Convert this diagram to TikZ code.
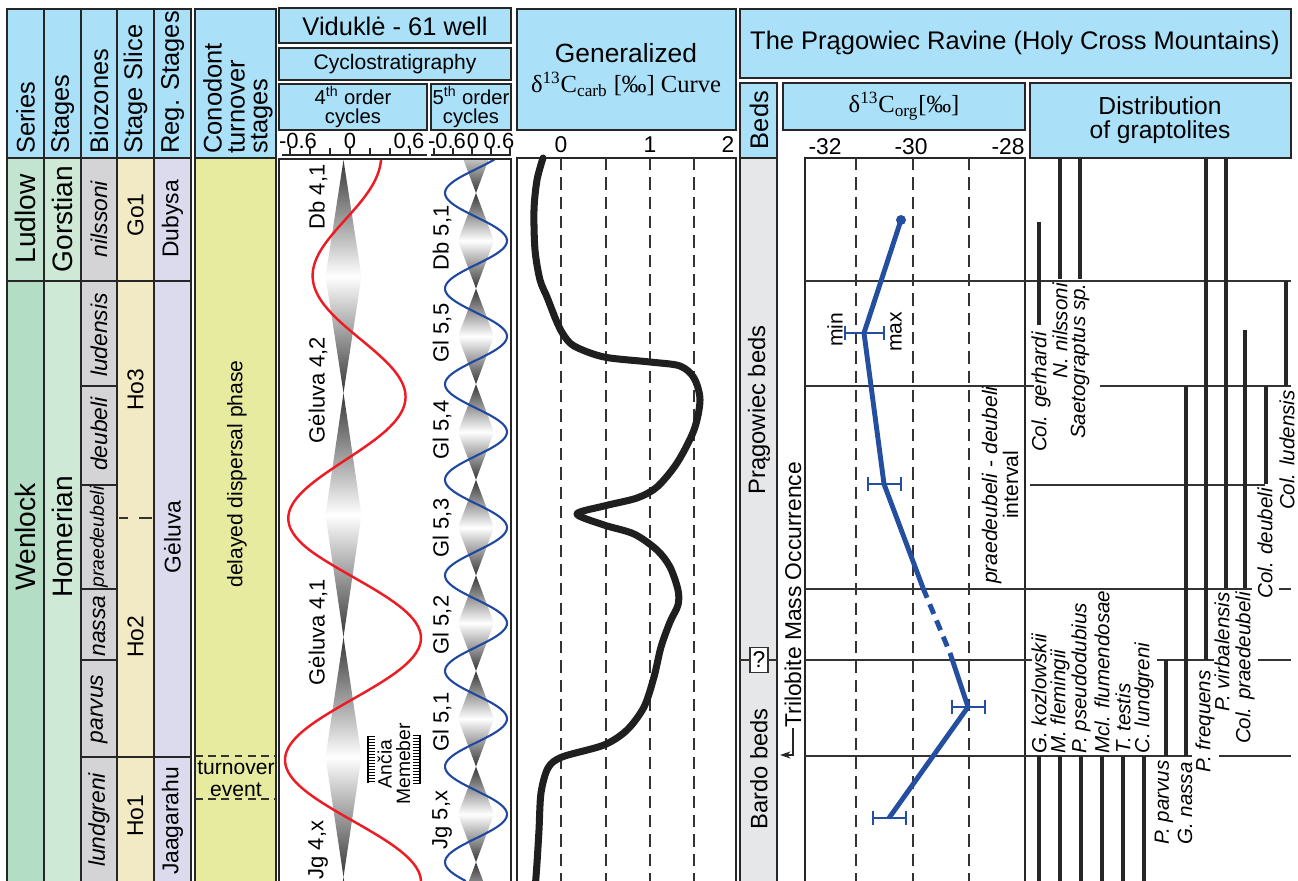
\documentclass[tikz,border=0pt]{standalone}
\usepackage{fontspec}
\setmainfont{Liberation Sans}
\newfontfamily\timesfont{Liberation Serif}
\usepackage{tikz}
\usetikzlibrary{arrows.meta,calc,positioning}
\definecolor{headblue}{RGB}{170,224,248}
\definecolor{ludgreen}{RGB}{195,228,208}
\definecolor{wengreen}{RGB}{179,222,197}
\definecolor{stggreen}{RGB}{206,233,214}
\definecolor{zonegray}{RGB}{212,212,214}
\definecolor{slicecream}{RGB}{242,234,196}
\definecolor{reglilac}{RGB}{220,218,237}
\definecolor{conoyellow}{RGB}{230,235,160}
\definecolor{bedgray}{RGB}{230,231,232}
\definecolor{cycred}{RGB}{237,28,36}
\definecolor{cycblue}{RGB}{32,72,160}
\definecolor{orgblue}{RGB}{36,78,160}
\definecolor{spindark}{RGB}{55,55,55}

\begin{document}
\begin{tikzpicture}[x=0.02cm, y=-0.02cm,
  box/.style={draw=black!85, line width=0.7pt},
  headbox/.style={box, fill=headblue},
  vtext/.style={rotate=90, inner sep=0pt},
  hfont/.style={font=\fontsize{14.5}{13}\selectfont},
  unitfont/.style={font=\fontsize{16}{18}\selectfont},
  zonefont/.style={font=\fontsize{13}{15}\selectfont\itshape},
  labfont/.style={font=\fontsize{13}{15}\selectfont},
  cycfont/.style={font=\fontsize{12.5}{14}\selectfont},
  axfont/.style={font=\fontsize{12.5}{14}\selectfont},
  grapt/.style={vtext, font=\fontsize{11.7}{13}\selectfont\itshape},
  rangebar/.style={line width=2.2pt, black!85},
  gridline/.style={black!80, line width=0.7pt, dash pattern=on 7pt off 4pt},
  bedline/.style={black!80, line width=0.6pt},
  errbar/.style={orgblue, line width=1.6pt},
  spin/.style={top color=spindark, bottom color=spindark, middle color=white},
]
\useasboundingbox (0,0) rectangle (1298,881);

% Left columns: headers
\foreach \xa/\xb/\txt/\nm in {7/44/Series/hser, 44/81/Stages/hstg, 81/117/Biozones/hbio, 117/154/Stage Slice/hsli, 154/191/Reg. Stages/hreg} {
  \draw[headbox] (\xa,9) rectangle (\xb,158);
  \node[vtext, hfont, anchor=west] (\nm) at ({(\xa+\xb)/2},154) {\txt};
}

% Left columns: bodies
\draw[box, fill=ludgreen] (7,158) rectangle (44,281);
\draw[box, fill=wengreen] (7,281) rectangle (44,890);
\draw[box, fill=stggreen] (44,158) rectangle (81,281);
\draw[box, fill=stggreen] (44,281) rectangle (81,890);
\foreach \ya/\yb in {158/281,281/386,386/485,485/589,589/660,660/757,757/890}
  \draw[box, fill=zonegray] (81,\ya) rectangle (117,\yb);
\foreach \ya/\yb in {158/281,281/757,757/890} {
  \draw[box, fill=slicecream] (117,\ya) rectangle (154,\yb);
  \draw[box, fill=reglilac] (154,\ya) rectangle (191,\yb);
}
\draw[bedline] (119,518) -- (128,518);
\draw[bedline] (139,518) -- (152,518);

\node[vtext, unitfont] (ludlow) at (25.5,219) {Ludlow};
\node[vtext, unitfont] (wenlock) at (25.5,537) {Wenlock};
\node[vtext, unitfont] (gorst) at (62.5,219) {Gorstian};
\node[vtext, unitfont] (homer) at (62.5,537) {Homerian};
\foreach \y/\txt/\nm in {219/nilssoni/znil, 335/ludensis/zlud, 434/deubeli/zdeu, 626/nassa/znas, 709/parvus/zpar, 820/lundgreni/zlun}
  \node[vtext, zonefont] (\nm) at (99,\y) {\txt};
\node[vtext, font=\fontsize{11}{13}\selectfont\itshape] (zpra) at (99,537) {praedeubeli};
\foreach \y/\txt/\nm in {215/Go1/sgo1, 390/Ho3/sho3, 637/Ho2/sho2, 816/Ho1/sho1}
  \node[vtext, labfont] (\nm) at (135.5,\y) {\txt};
\foreach \y/\txt/\nm in {219/Dubysa/rdub, 537/Gėluva/rgel, 821/Jaagarahu/rjaa}
  \node[vtext, labfont] (\nm) at (172.5,\y) {\txt};

% Conodont turnover
\draw[headbox] (195,9) rectangle (276,158);
\node[vtext, hfont, anchor=west, align=left] (hcon) at (238,154) {Conodont\\turnover\\stages};
\draw[box, fill=conoyellow] (195,158) rectangle (276,890);
\node[vtext, font=\fontsize{12}{14}\selectfont] (delay) at (237,474) {delayed dispersal phase};
\draw[bedline, dash pattern=on 4.5pt off 3pt] (195,756) -- (276,756);
\draw[bedline, dash pattern=on 4.5pt off 3pt] (195,799) -- (276,799);
\node[font=\fontsize{12}{12.5}\selectfont, align=center, inner sep=0pt] (turn) at (236,779) {turnover\\event};

% Viduklė well headers
\draw[headbox] (279,8) rectangle (511,43);
\node[hfont] (hvid) at (395,26) {Viduklė - 61 well};
\draw[headbox] (279,48) rectangle (511,80);
\node[font=\fontsize{12}{14}\selectfont] (hcyc) at (395,64) {Cyclostratigraphy};
\draw[headbox] (279,84) rectangle (427,130);
\node[font=\fontsize{11.5}{11}\selectfont, align=center, inner sep=0pt] (hfour) at (353,107) {4\textsuperscript{th} order\\cycles};
\draw[headbox] (431,84) rectangle (511,130);
\node[font=\fontsize{11.5}{11}\selectfont, align=center, inner sep=0pt] (hfive) at (471,107) {5\textsuperscript{th} order\\cycles};

% cycle axes
\draw[box] (282,155) -- (427,155);
\foreach \x in {290,310,...,410} \draw[box] (\x,148) -- (\x,155);
\draw[box] (431,155) -- (511,155);
\foreach \x in {434,453,...,510} \draw[box] (\x,148) -- (\x,155);
\foreach \x/\txt/\nm in {298/-0.6/af1, 350/0/af2, 409/0.6/af3, 447/-0.6/av1, 473/0/av2, 499/0.6/av3}
  \node[axfont, inner sep=0pt] (\nm) at (\x,141) {\txt};

% cycles
\begin{scope}
\clip (279,159) rectangle (511,881);
\foreach \ya/\yb in {160/393, 393/637, 637/877, 877/1117}
  \shade[spin] (343.5,\ya) -- (361.5,{(\ya+\yb)/2}) -- (343.5,\yb) -- (325.5,{(\ya+\yb)/2}) -- cycle;
\foreach \k in {-1,0,...,7}
  \shade[spin] (476,{193+\k*95.6}) -- (494,{193+\k*95.6+47.8}) -- (476,{193+\k*95.6+95.6}) -- (458,{193+\k*95.6+47.8}) -- cycle;
\draw[cycred, line width=1.4pt] plot[domain=159:881, samples=240, variable=\t] ({353-min(68,29+0.1*(\t-160))*cos(((\t-272)/122)*180)}, \t);
\draw[cycblue, line width=1.2pt] plot[domain=159:881, samples=320, variable=\t] ({476-31*cos(((\t-193)/47.8)*180)}, \t);
\end{scope}
\draw[box] (279,159) rectangle (511,890);

\node[vtext, cycfont] (c41db) at (318,197) {Db 4,1};
\node[vtext, cycfont] (c42) at (318,390) {Gėluva 4,2};
\node[vtext, cycfont] (c41) at (318,632) {Gėluva 4,1};
\node[vtext, cycfont] (c4x) at (318,850) {Jg 4,x};
\node[vtext, cycfont] (c51db) at (442,238) {Db 5,1};
\node[vtext, cycfont] (c55) at (442,333) {Gl 5,5};
\node[vtext, cycfont] (c54) at (442,430) {Gl 5,4};
\node[vtext, cycfont] (c53) at (442,528) {Gl 5,3};
\node[vtext, cycfont] (c52) at (442,625) {Gl 5,2};
\node[vtext, cycfont] (c51) at (442,722) {Gl 5,1};
\node[vtext, cycfont] (c5x) at (442,820) {Jg 5,x};

% Ančia member
\node[vtext, font=\fontsize{11}{10.5}\selectfont, align=center] (ancia) at (394,764) {Ančia\\Memeber};
\draw[line width=0.6pt] (368,736) -- (368,783);
\foreach \t in {736,739,...,783} \draw[line width=0.35pt] (368,\t) -- (375,\t);
\draw[line width=0.6pt] (420,735) -- (420,784);
\foreach \t in {735,738,...,784} \draw[line width=0.35pt] (413,\t) -- (420,\t);

% Generalized curve
\draw[headbox] (517,9) rectangle (736,130);
\node[font=\fontsize{15}{17}\selectfont] (hgen) at (626,53) {Generalized};
\node[font=\timesfont\fontsize{14}{16}\selectfont] (hcarb) at (626,84) {δ\textsuperscript{13}C\textsubscript{carb} [‰] Curve};
\foreach \x/\txt/\nm in {561/0/ag0, 650/1/ag1, 728/2/ag2}
  \node[font=\fontsize{13}{15}\selectfont] (\nm) at (\x,145) {\txt};
\draw[box] (517,158) rectangle (736,890);
\foreach \x in {561,606,650,694} \draw[gridline] (\x,158) -- (\x,881);
\draw[black!88, line width=4pt, line cap=round, line join=round] plot[smooth, tension=0.5] coordinates {
  (543,158) (537,180) (534,210) (535,250) (540,280) (547,297) (556,320) (563,334)
  (574,346) (604,357) (650,362) (680,366) (694,378) (700,400) (694,430) (677,463)
  (657,487) (637,498) (604,506) (577,514) (604,525) (634,534) (657,550) (670,567)
  (678,590) (678,605) (670,622) (661,647) (654,677) (644,707) (627,730) (604,745)
  (562,757) (548,768) (541,793) (539,830) (537,863) (535,890)};

% Pragowiec Ravine headers
\draw[headbox] (740,9) rectangle (1291,78);
\node[hfont] (hpra) at (1015,43) {The Prągowiec Ravine (Holy Cross Mountains)};
\draw[headbox] (740,83) rectangle (777,158);
\node[vtext, hfont] (hbed) at (759,120) {Beds};
\draw[headbox] (783,83) rectangle (1025,130);
\node[font=\timesfont\fontsize{14}{16}\selectfont] (horg) at (904,106) {δ\textsuperscript{13}C\textsubscript{org}[‰]};
\draw[headbox] (1030,83) rectangle (1291,158);
\node[font=\fontsize{14}{14}\selectfont, align=center] (hdis) at (1160,120) {Distribution\\of graptolites};
\foreach \x/\txt/\nm in {825/-32/ao1, 911/-30/ao2, 1008/-28/ao3}
  \node[font=\fontsize{13}{15}\selectfont] (\nm) at (\x,147) {\txt};

% Beds
\draw[box, fill=bedgray] (740,158) rectangle (777,890);
\node[vtext, font=\fontsize{13.5}{15}\selectfont] (bprag) at (759,410) {Prągowiec beds};
\node[vtext, font=\fontsize{13.5}{15}\selectfont] (bbard) at (759,769) {Bardo beds};
\draw[bedline] (740,660) -- (777,660);
\node[draw=black!80, fill=white, line width=0.6pt, minimum width=0.36cm, minimum height=0.5cm, inner sep=0pt, font=\fontsize{13}{15}\selectfont] (qmark) at (759,660) {?};
\node[vtext, anchor=west, font=\fontsize{13}{15}\selectfont] (trilo) at (793,728) {Trilobite Mass Occurrence};
\coordinate (triend) at (780,755);
\draw[black!85, line width=0.6pt, -{Stealth[length=6pt, width=4pt]}] (trilo.west) -- (793,755) -- (triend);

% d13C org plot
\draw[box] (805,158) rectangle (1025,890);
\foreach \x in {856,913,969} \draw[gridline] (\x,158) -- (\x,881);
\foreach \y in {281,386,589,660,756} \draw[bedline] (805,\y) -- (1025,\y);
\draw[orgblue, line width=2.8pt] (901,220) -- (864,333) -- (884,484) -- (923,588);
\draw[orgblue, line width=2.8pt, dash pattern=on 6pt off 4pt] (923,588) -- (950,653);
\draw[orgblue, line width=2.8pt] (950,653) -- (968,707) -- (889,818);
\fill[orgblue] (901,220) circle (5);
\foreach \xa/\xb/\y in {845/884/333, 868/901/484, 952/985/707, 873/906/818} {
  \draw[errbar] (\xa,\y) -- (\xb,\y);
  \draw[errbar] (\xa,\y-7) -- (\xa,\y+7);
  \draw[errbar] (\xb,\y-7) -- (\xb,\y+7);
}
\node[vtext, font=\fontsize{12}{13}\selectfont] (lmin) at (835,330) {min};
\node[vtext, font=\fontsize{12}{13}\selectfont] (lmax) at (896,332) {max};
\node[vtext, font=\fontsize{12}{12}\selectfont, align=center] (lint) at (1000,485) {\textit{praedeubeli} - \textit{deubeli}\\interval};

% Distribution of graptolites
\foreach \ya/\xa/\xb in {281/1025/1291, 386/1025/1034, 386/1100/1291, 485/1030/1265, 589/1025/1252, 589/1279/1291, 660/1025/1032, 660/1157/1214, 660/1258/1291, 756/1025/1192, 756/1219/1291}
  \draw[bedline] (\xa,\ya) -- (\xb,\ya);
\foreach \x/\ya/\yb in {1039/222/325, 1060/158/279, 1080/158/279, 1186/386/756, 1206/158/660, 1226/158/588, 1245/330/588, 1266/386/484, 1286/281/386, 1039/756/890, 1060/756/890, 1081/756/890, 1102/756/890, 1123/756/890, 1144/756/890, 1166/660/756}
  \draw[rangebar] (\x,\ya) -- (\x,\yb);
\foreach \x/\y/\txt/\nm in {1041/332/Col. gerhardi/gger, 1060/283/N. nilssoni/gnil, 1080/283/Saetograptus sp./gsae, 1287/390/Col. ludensis/glud, 1265/488/Col. deubeli/gdeu, 1222/592/P. virbalensis/gvir, 1245/592/Col. praedeubeli/gpra, 1205/670/P. frequens/gfre, 1164/760/P. parvus/gpar, 1185/762/G. nassa/gnas}
  \node[grapt, anchor=east] (\nm) at (\x,\y) {\txt};
\foreach \x/\txt/\nm in {1039/G. kozlowskii/gkoz, 1060/M. flemingii/gfle, 1081/P. pseudodubius/gpse, 1102/Mcl. flumendosae/gflu, 1123/T. testis/gtes, 1144/C. lundgreni/glun}
  \node[grapt, anchor=west] (\nm) at (\x,754) {\txt};
\end{tikzpicture}
\end{document}
